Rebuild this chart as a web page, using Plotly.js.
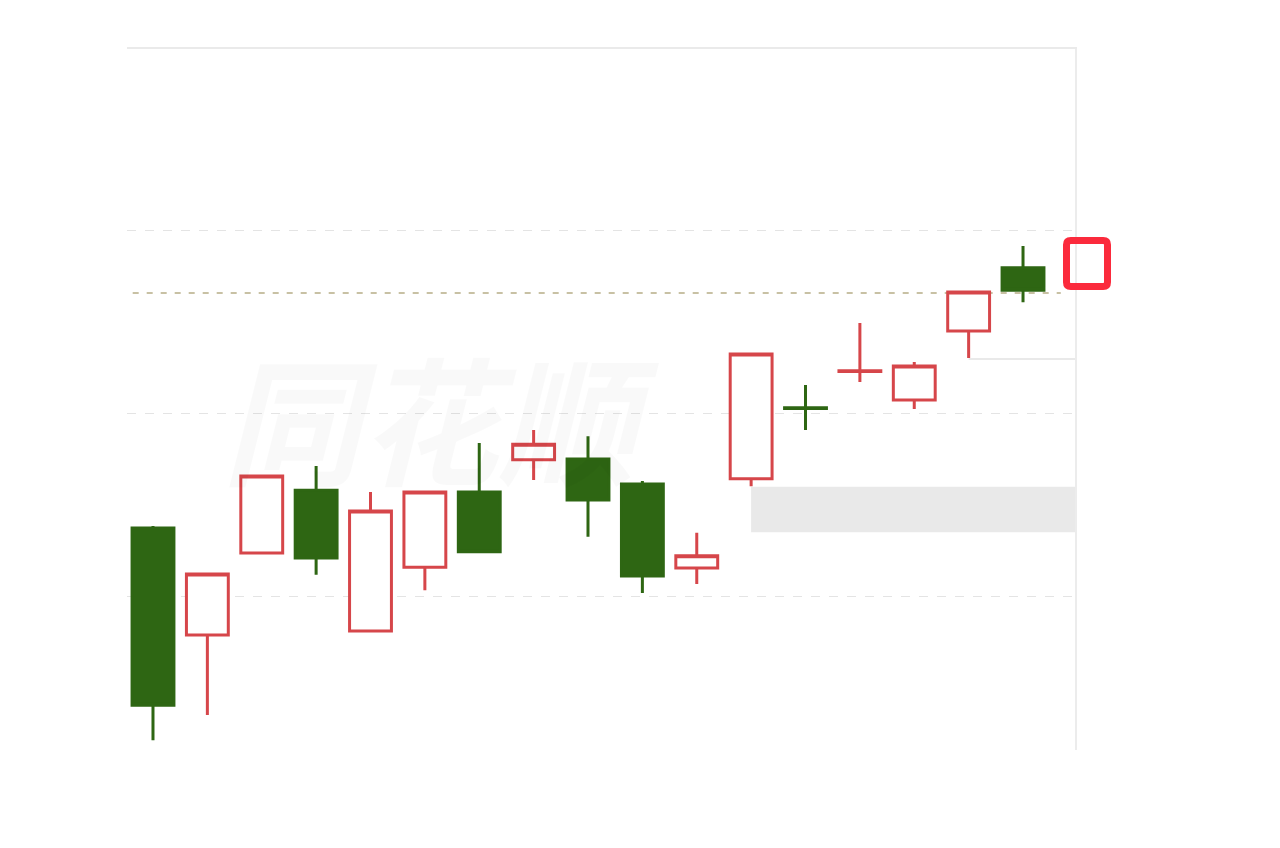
<!DOCTYPE html>
<html>
<head>
<meta charset="utf-8">
<script src="https://cdn.plot.ly/plotly-3.0.1.min.js"></script>
<style>
  html, body { margin: 0; padding: 0; background: #ffffff; }
  #chart { width: 1280px; height: 848px; }
</style>
</head>
<body>
<div id="chart"></div>
<script>
// Candle index (trading sessions)
const sessions = [0, 1, 2, 3, 4, 5, 6, 7, 8, 9, 10, 11, 12, 13, 14, 15, 16];
const openP  = [10.186, 9.893, 10.118, 10.290, 9.904, 10.079, 10.285, 10.373, 10.375, 10.307, 10.077, 10.321, 10.516, 10.615, 10.537, 10.726, 10.899];
const highP  = [10.192, 10.060, 10.329, 10.356, 10.285, 10.285, 10.419, 10.455, 10.438, 10.315, 10.173, 10.663, 10.578, 10.748, 10.641, 10.833, 10.959];
const lowP   = [9.605, 9.674, 10.118, 10.058, 9.904, 10.016, 10.121, 10.318, 10.162, 10.008, 10.033, 10.301, 10.455, 10.586, 10.512, 10.652, 10.805];
const closeP = [9.701, 10.060, 10.329, 10.104, 10.233, 10.285, 10.121, 10.416, 10.263, 10.055, 10.110, 10.663, 10.514, 10.617, 10.630, 10.833, 10.838];

// Reference levels
const gridLevels = [10.0, 10.5, 11.0];
const dashedLevel = 10.830;
const bandLow = 10.175, bandHigh = 10.299, bandStart = 11;
const shortLineLevel = 10.649, shortLineStart = 15;
const watermark = "同花顺";

const trace = {
  type: 'candlestick',
  x: sessions,
  open: openP, high: highP, low: lowP, close: closeP,
  increasing: { line: { color: '#d6464a', width: 3 }, fillcolor: '#ffffff' },
  decreasing: { line: { color: '#2e6613', width: 3 }, fillcolor: '#2e6613' },
  whiskerwidth: 0,
  hoverinfo: 'skip',
  showlegend: false
};

const xr = [-0.478, 16.956];

// highlighted square (paper coords, outside the plot on the right)
const sx0 = 0.99103, sx1 = 1.03428, sy0 = 0.66120, sy1 = 0.72682, rx = 0.0045, ry = 0.006;
const sqPath = `M ${sx0+rx},${sy1} L ${sx1-rx},${sy1} Q ${sx1},${sy1} ${sx1},${sy1-ry} L ${sx1},${sy0+ry} Q ${sx1},${sy0} ${sx1-rx},${sy0} L ${sx0+rx},${sy0} Q ${sx0},${sy0} ${sx0},${sy0+ry} L ${sx0},${sy1-ry} Q ${sx0},${sy1} ${sx0+rx},${sy1} Z`;

const layout = {
  width: 1280, height: 848,
  margin: { l: 127, r: 205, t: 49, b: 98 },
  paper_bgcolor: '#ffffff',
  plot_bgcolor: '#ffffff',
  boxgap: 0.23,
  boxgroupgap: 0,
  showlegend: false,
  xaxis: {
    range: xr, type: 'linear',
    showgrid: false, zeroline: false, showticklabels: false, ticks: '',
    rangeslider: { visible: false },
    side: 'top', showline: true, linecolor: '#eaeaea', linewidth: 2,
    fixedrange: true
  },
  yaxis: {
    range: [9.5781, 11.4986],
    tickvals: gridLevels,
    showgrid: true, gridcolor: '#e4e4e4', griddash: 'dash', gridwidth: 1,
    zeroline: false, showticklabels: false, ticks: '',
    side: 'right', showline: true, linecolor: '#ececec', linewidth: 2,
    fixedrange: true
  },
  shapes: [
    { type: 'rect', xref: 'x', yref: 'y', x0: sessions[bandStart], x1: xr[1], y0: bandLow, y1: bandHigh,
      fillcolor: '#e9e9e9', line: { width: 0 }, layer: 'below' },
    { type: 'line', xref: 'x', yref: 'y', x0: sessions[shortLineStart], x1: xr[1], y0: shortLineLevel, y1: shortLineLevel,
      line: { color: '#e2e2e2', width: 1.5 }, layer: 'below' },
    { type: 'line', xref: 'paper', yref: 'y', x0: 0.006, x1: 0.985, y0: dashedLevel, y1: dashedLevel,
      line: { color: '#c8c1a4', width: 2, dash: '6px,8px' }, layer: 'below' },
    { type: 'path', xref: 'paper', yref: 'paper', path: sqPath,
      line: { color: '#fb2a3c', width: 7 }, fillcolor: 'rgba(0,0,0,0)', layer: 'above' }
  ],
  annotations: [
    { xref: 'paper', yref: 'paper', x: 0.331, y: 0.478, xanchor: 'center', yanchor: 'middle',
      text: '<i><b>' + watermark + '</b></i>', showarrow: false,
      font: { family: 'Noto Sans CJK SC', size: 138, color: 'rgba(0,0,0,0.025)' } }
  ]
};

Plotly.newPlot('chart', [trace], layout, { displayModeBar: false, staticPlot: true });
</script>
</body>
</html>
